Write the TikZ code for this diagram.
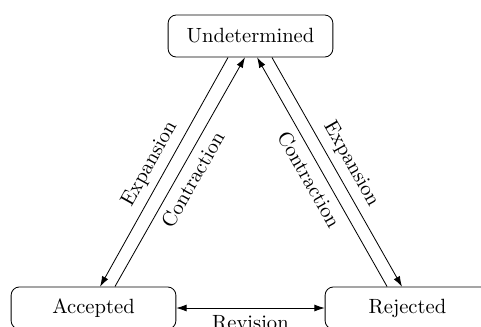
\documentclass[tikz,border=0pt]{standalone}
\usetikzlibrary{arrows.meta}
\begin{document}
\begin{tikzpicture}[x=0.4855pt, y=-0.4855pt,
  state/.style={draw, rounded corners=4pt, minimum width=80pt, minimum height=20.4pt, inner sep=0pt},
  flow/.style={-{Latex[length=5pt,width=3.4pt]}},
  lbl/.style={midway, sloped, font=\normalsize}]
  \useasboundingbox (0,0) rectangle (481,327);
  \clip (0,0) rectangle (481,327);

  % three belief states
  \node[state] (U) at (250.5,36) {Undetermined};
  \node[state] (A) at (93.5,308) {Accepted};
  \node[state] (R) at (407.5,308) {Rejected};

  % left pair: undetermined <-> accepted
  \draw[flow] ([xshift=-10.9pt]U.south) -- node[lbl, above] {Expansion} ([xshift=3.2pt]A.north);
  \draw[flow] ([xshift=10.4pt]A.north) -- node[lbl, below] {Contraction} ([xshift=-2.7pt]U.south);

  % right pair: undetermined <-> rejected
  \draw[flow] ([xshift=-9.9pt]R.north) -- node[lbl, below] {Contraction} ([xshift=3.2pt]U.south);
  \draw[flow] ([xshift=10.4pt]U.south) -- node[lbl, above] {Expansion} ([xshift=-2.7pt]R.north);

  % revision between accepted and rejected
  \draw[{Latex[length=5pt,width=3.4pt]}-{Latex[length=5pt,width=3.4pt]}] (A.east) -- node[midway, below] {Revision} (R.west);
\end{tikzpicture}
\end{document}
